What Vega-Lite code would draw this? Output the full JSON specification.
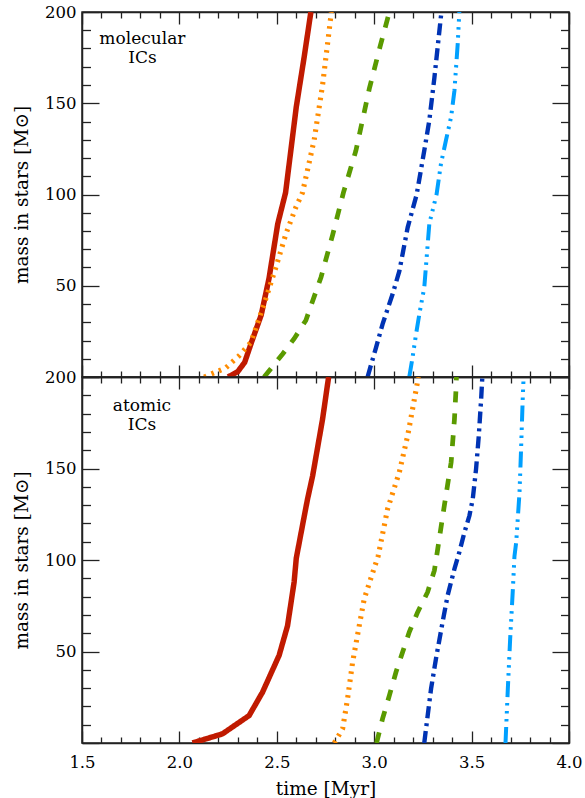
{
  "$schema": "https://vega.github.io/schema/vega-lite/v6.json",
  "background": "white",
  "padding": {"left": 11, "top": 3, "right": 14, "bottom": 0},
  "spacing": 0,
  "bounds": "flush",
  "config": {
    "view": {"stroke": "#222", "strokeWidth": 1.5},
    "font": "DejaVu Serif",
    "axis": {
      "domainColor": "#222", "domainWidth": 1.5, "tickColor": "#222", "tickWidth": 1.3,
      "grid": false, "labelFont": "DejaVu Serif", "labelFontSize": 16.5, "labelColor": "#000",
      "titleFont": "DejaVu Serif", "titleFontSize": 18.5, "titleFontWeight": "normal", "titleColor": "#000",
      "labelFlush": false, "labelOverlap": false, "minExtent": 0
    }
  },
  "datasets": {
    "curves": [
      {"p":"molecular","s":"s1","t":2.25,"m":0},{"p":"molecular","s":"s1","t":2.30,"m":3},{"p":"molecular","s":"s1","t":2.335,"m":8},{"p":"molecular","s":"s1","t":2.37,"m":19},{"p":"molecular","s":"s1","t":2.42,"m":34},{"p":"molecular","s":"s1","t":2.46,"m":54},{"p":"molecular","s":"s1","t":2.505,"m":84},{"p":"molecular","s":"s1","t":2.545,"m":101},{"p":"molecular","s":"s1","t":2.60,"m":148},{"p":"molecular","s":"s1","t":2.64,"m":175},{"p":"molecular","s":"s1","t":2.675,"m":200},
      {"p":"molecular","s":"s2","t":2.127,"m":0},{"p":"molecular","s":"s2","t":2.238,"m":5},{"p":"molecular","s":"s2","t":2.307,"m":11.7},{"p":"molecular","s":"s2","t":2.367,"m":19},{"p":"molecular","s":"s2","t":2.435,"m":40},{"p":"molecular","s":"s2","t":2.495,"m":60},{"p":"molecular","s":"s2","t":2.547,"m":78.5},{"p":"molecular","s":"s2","t":2.598,"m":93},{"p":"molecular","s":"s2","t":2.632,"m":101},{"p":"molecular","s":"s2","t":2.692,"m":130},{"p":"molecular","s":"s2","t":2.735,"m":160},{"p":"molecular","s":"s2","t":2.769,"m":190},{"p":"molecular","s":"s2","t":2.78,"m":200},
      {"p":"molecular","s":"s3","t":2.435,"m":0},{"p":"molecular","s":"s3","t":2.53,"m":12.6},{"p":"molecular","s":"s3","t":2.589,"m":21},{"p":"molecular","s":"s3","t":2.649,"m":31},{"p":"molecular","s":"s3","t":2.727,"m":54.7},{"p":"molecular","s":"s3","t":2.786,"m":77.6},{"p":"molecular","s":"s3","t":2.842,"m":101},{"p":"molecular","s":"s3","t":2.906,"m":124},{"p":"molecular","s":"s3","t":2.975,"m":158},{"p":"molecular","s":"s3","t":3.03,"m":181},{"p":"molecular","s":"s3","t":3.078,"m":200},
      {"p":"molecular","s":"s4","t":2.966,"m":0},{"p":"molecular","s":"s4","t":3.009,"m":16},{"p":"molecular","s":"s4","t":3.043,"m":29},{"p":"molecular","s":"s4","t":3.095,"m":45.6},{"p":"molecular","s":"s4","t":3.129,"m":58},{"p":"molecular","s":"s4","t":3.172,"m":82},{"p":"molecular","s":"s4","t":3.218,"m":100},{"p":"molecular","s":"s4","t":3.257,"m":124},{"p":"molecular","s":"s4","t":3.283,"m":140.6},{"p":"molecular","s":"s4","t":3.309,"m":164},{"p":"molecular","s":"s4","t":3.335,"m":190},{"p":"molecular","s":"s4","t":3.345,"m":200},
      {"p":"molecular","s":"s5","t":3.18,"m":0},{"p":"molecular","s":"s5","t":3.197,"m":10.8},{"p":"molecular","s":"s5","t":3.215,"m":23.6},{"p":"molecular","s":"s5","t":3.232,"m":34.6},{"p":"molecular","s":"s5","t":3.257,"m":49},{"p":"molecular","s":"s5","t":3.283,"m":84},{"p":"molecular","s":"s5","t":3.32,"m":100},{"p":"molecular","s":"s5","t":3.343,"m":117},{"p":"molecular","s":"s5","t":3.369,"m":130},{"p":"molecular","s":"s5","t":3.395,"m":142.6},{"p":"molecular","s":"s5","t":3.412,"m":157},{"p":"molecular","s":"s5","t":3.429,"m":183},{"p":"molecular","s":"s5","t":3.437,"m":200},
      {"p":"atomic","s":"s1","t":2.067,"m":0},{"p":"atomic","s":"s1","t":2.221,"m":5},{"p":"atomic","s":"s1","t":2.358,"m":15},{"p":"atomic","s":"s1","t":2.427,"m":27.8},{"p":"atomic","s":"s1","t":2.512,"m":47.9},{"p":"atomic","s":"s1","t":2.555,"m":64},{"p":"atomic","s":"s1","t":2.589,"m":88},{"p":"atomic","s":"s1","t":2.60,"m":101},{"p":"atomic","s":"s1","t":2.641,"m":124},{"p":"atomic","s":"s1","t":2.658,"m":133.4},{"p":"atomic","s":"s1","t":2.684,"m":146},{"p":"atomic","s":"s1","t":2.735,"m":177},{"p":"atomic","s":"s1","t":2.766,"m":200},
      {"p":"atomic","s":"s2","t":2.795,"m":0},{"p":"atomic","s":"s2","t":2.838,"m":7.8},{"p":"atomic","s":"s2","t":2.863,"m":24},{"p":"atomic","s":"s2","t":2.889,"m":44},{"p":"atomic","s":"s2","t":2.923,"m":64},{"p":"atomic","s":"s2","t":2.949,"m":78.8},{"p":"atomic","s":"s2","t":2.992,"m":93},{"p":"atomic","s":"s2","t":3.02,"m":102},{"p":"atomic","s":"s2","t":3.069,"m":128},{"p":"atomic","s":"s2","t":3.129,"m":148},{"p":"atomic","s":"s2","t":3.172,"m":168},{"p":"atomic","s":"s2","t":3.197,"m":182.5},{"p":"atomic","s":"s2","t":3.227,"m":200},
      {"p":"atomic","s":"s3","t":3.012,"m":0},{"p":"atomic","s":"s3","t":3.043,"m":13.3},{"p":"atomic","s":"s3","t":3.078,"m":26},{"p":"atomic","s":"s3","t":3.112,"m":38.8},{"p":"atomic","s":"s3","t":3.146,"m":49.7},{"p":"atomic","s":"s3","t":3.18,"m":60.6},{"p":"atomic","s":"s3","t":3.223,"m":71.5},{"p":"atomic","s":"s3","t":3.274,"m":82.4},{"p":"atomic","s":"s3","t":3.309,"m":94.3},{"p":"atomic","s":"s3","t":3.326,"m":106},{"p":"atomic","s":"s3","t":3.36,"m":129.7},{"p":"atomic","s":"s3","t":3.395,"m":153.4},{"p":"atomic","s":"s3","t":3.412,"m":177},{"p":"atomic","s":"s3","t":3.42,"m":193.4},{"p":"atomic","s":"s3","t":3.422,"m":200},
      {"p":"atomic","s":"s4","t":3.257,"m":0},{"p":"atomic","s":"s4","t":3.266,"m":7.8},{"p":"atomic","s":"s4","t":3.292,"m":29.7},{"p":"atomic","s":"s4","t":3.317,"m":46},{"p":"atomic","s":"s4","t":3.351,"m":66},{"p":"atomic","s":"s4","t":3.377,"m":80.6},{"p":"atomic","s":"s4","t":3.412,"m":95.2},{"p":"atomic","s":"s4","t":3.437,"m":104.3},{"p":"atomic","s":"s4","t":3.463,"m":115},{"p":"atomic","s":"s4","t":3.489,"m":124.3},{"p":"atomic","s":"s4","t":3.506,"m":133.4},{"p":"atomic","s":"s4","t":3.523,"m":149.8},{"p":"atomic","s":"s4","t":3.537,"m":168},{"p":"atomic","s":"s4","t":3.549,"m":188},{"p":"atomic","s":"s4","t":3.555,"m":200},
      {"p":"atomic","s":"s5","t":3.674,"m":0},{"p":"atomic","s":"s5","t":3.686,"m":29.7},{"p":"atomic","s":"s5","t":3.698,"m":57},{"p":"atomic","s":"s5","t":3.712,"m":84.3},{"p":"atomic","s":"s5","t":3.72,"m":102},{"p":"atomic","s":"s5","t":3.729,"m":109.7},{"p":"atomic","s":"s5","t":3.746,"m":137},{"p":"atomic","s":"s5","t":3.754,"m":160.7},{"p":"atomic","s":"s5","t":3.763,"m":189.8},{"p":"atomic","s":"s5","t":3.767,"m":200}
    ]
  },
  "vconcat": [
    {
      "width": 487, "height": 365,
      "resolve": {"axis": {"x": "independent", "y": "independent"}},
      "layer": [
        {
          "data": {"name": "curves"},
          "transform": [{"filter": "datum.p === 'molecular'"}],
          "mark": {"type": "line", "clip": true, "strokeCap": "butt"},
          "encoding": {
            "x": {"field": "t", "type": "quantitative", "scale": {"domain": [1.5, 4], "nice": false, "zero": false},
              "axis": {"orient": "bottom", "values": [1.5,2.0,2.5,3.0,3.5,4.0], "tickSize": -12, "labels": false, "title": null}},
            "y": {"field": "m", "type": "quantitative", "scale": {"domain": [0, 200], "nice": false},
              "axis": {"orient": "left", "values": [0,50,100,150,200], "tickSize": -17,
                "labelExpr": "datum.value > 0 ? format(datum.value, 'd') : ''",
                "labelPadding": 23, "title": "mass in stars [M⊙]", "titlePadding": 13}},
            "color": {"field": "s", "type": "nominal", "legend": null,
              "scale": {"domain": ["s1","s2","s3","s4","s5"], "range": ["#c01a00","#ff8c00","#5a9a00","#0033b4","#00a0ff"]}},
            "strokeDash": {"field": "s", "type": "nominal", "legend": null,
              "scale": {"domain": ["s1","s2","s3","s4","s5"], "range": [[1,0],[2.5,5.5],[11,11],[12,5,3,5],[16,5.5,2.5,5.5,2.5,5.5,2.5,6]]}},
            "strokeWidth": {"field": "s", "type": "nominal", "legend": null,
              "scale": {"domain": ["s1","s2","s3","s4","s5"], "range": [5.5,4,6,5,5]}}
          }
        },
        {
          "data": {"values": [{"label": "molecular\nICs"}]},
          "mark": {"type": "text", "font": "DejaVu Serif", "fontSize": 17, "lineBreak": "\n", "lineHeight": 18.5, "align": "center", "baseline": "middle", "color": "#000"},
          "encoding": {
            "text": {"field": "label"},
            "x": {"datum": 1.81, "type": "quantitative",
              "axis": {"orient": "top", "values": [1.5,2.0,2.5,3.0,3.5,4.0], "tickSize": -12, "labels": false, "title": null}},
            "y": {"datum": 185, "type": "quantitative",
              "axis": {"orient": "right", "values": [0,50,100,150,200], "tickSize": -17, "labels": false, "title": null}}
          }
        },
        {
          "data": {"values": [{"label": ""}]},
          "mark": {"type": "text"},
          "encoding": {
            "text": {"field": "label"},
            "x": {"datum": 2, "type": "quantitative",
              "axis": {"orient": "bottom", "values": [1.6,1.7,1.8,1.9,2.1,2.2,2.3,2.4,2.6,2.7,2.8,2.9,3.1,3.2,3.3,3.4,3.6,3.7,3.8,3.9], "tickSize": -6, "labels": false, "domain": false, "title": null}},
            "y": {"datum": 100, "type": "quantitative",
              "axis": {"orient": "left", "values": [10,20,30,40,60,70,80,90,110,120,130,140,160,170,180,190], "tickSize": -8.5, "labels": false, "domain": false, "title": null}}
          }
        },
        {
          "data": {"values": [{"label": ""}]},
          "mark": {"type": "text"},
          "encoding": {
            "text": {"field": "label"},
            "x": {"datum": 2, "type": "quantitative",
              "axis": {"orient": "top", "values": [1.6,1.7,1.8,1.9,2.1,2.2,2.3,2.4,2.6,2.7,2.8,2.9,3.1,3.2,3.3,3.4,3.6,3.7,3.8,3.9], "tickSize": -6, "labels": false, "domain": false, "title": null}},
            "y": {"datum": 100, "type": "quantitative",
              "axis": {"orient": "right", "values": [10,20,30,40,60,70,80,90,110,120,130,140,160,170,180,190], "tickSize": -8.5, "labels": false, "domain": false, "title": null}}
          }
        }
      ]
    },
    {
      "width": 487, "height": 366,
      "resolve": {"axis": {"x": "independent", "y": "independent"}},
      "layer": [
        {
          "data": {"name": "curves"},
          "transform": [{"filter": "datum.p === 'atomic'"}],
          "mark": {"type": "line", "clip": true, "strokeCap": "butt"},
          "encoding": {
            "x": {"field": "t", "type": "quantitative", "scale": {"domain": [1.5, 4], "nice": false, "zero": false},
              "axis": {"orient": "bottom", "values": [1.5,2.0,2.5,3.0,3.5,4.0], "tickSize": -12,
                "format": ".1f", "labelPadding": 23, "title": "time [Myr]", "titlePadding": 9}},
            "y": {"field": "m", "type": "quantitative", "scale": {"domain": [0, 200], "nice": false},
              "axis": {"orient": "left", "values": [0,50,100,150,200], "tickSize": -17,
                "labelExpr": "datum.value > 0 ? format(datum.value, 'd') : ''",
                "labelPadding": 23, "title": "mass in stars [M⊙]", "titlePadding": 13}},
            "color": {"field": "s", "type": "nominal", "legend": null,
              "scale": {"domain": ["s1","s2","s3","s4","s5"], "range": ["#c01a00","#ff8c00","#5a9a00","#0033b4","#00a0ff"]}},
            "strokeDash": {"field": "s", "type": "nominal", "legend": null,
              "scale": {"domain": ["s1","s2","s3","s4","s5"], "range": [[1,0],[2.5,5.5],[11,11],[12,5,3,5],[16,5.5,2.5,5.5,2.5,5.5,2.5,6]]}},
            "strokeWidth": {"field": "s", "type": "nominal", "legend": null,
              "scale": {"domain": ["s1","s2","s3","s4","s5"], "range": [5.5,4,6,5,5]}}
          }
        },
        {
          "data": {"values": [{"label": "atomic\nICs"}]},
          "mark": {"type": "text", "font": "DejaVu Serif", "fontSize": 17, "lineBreak": "\n", "lineHeight": 18.5, "align": "center", "baseline": "middle", "color": "#000"},
          "encoding": {
            "text": {"field": "label"},
            "x": {"datum": 1.808, "type": "quantitative",
              "axis": {"orient": "top", "values": [1.5,2.0,2.5,3.0,3.5,4.0], "tickSize": -12, "labels": false, "title": null}},
            "y": {"datum": 184, "type": "quantitative",
              "axis": {"orient": "right", "values": [0,50,100,150,200], "tickSize": -17, "labels": false, "title": null}}
          }
        },
        {
          "data": {"values": [{"label": ""}]},
          "mark": {"type": "text"},
          "encoding": {
            "text": {"field": "label"},
            "x": {"datum": 2, "type": "quantitative",
              "axis": {"orient": "bottom", "values": [1.6,1.7,1.8,1.9,2.1,2.2,2.3,2.4,2.6,2.7,2.8,2.9,3.1,3.2,3.3,3.4,3.6,3.7,3.8,3.9], "tickSize": -6, "labels": false, "domain": false, "title": null}},
            "y": {"datum": 100, "type": "quantitative",
              "axis": {"orient": "left", "values": [10,20,30,40,60,70,80,90,110,120,130,140,160,170,180,190], "tickSize": -8.5, "labels": false, "domain": false, "title": null}}
          }
        },
        {
          "data": {"values": [{"label": ""}]},
          "mark": {"type": "text"},
          "encoding": {
            "text": {"field": "label"},
            "x": {"datum": 2, "type": "quantitative",
              "axis": {"orient": "top", "values": [1.6,1.7,1.8,1.9,2.1,2.2,2.3,2.4,2.6,2.7,2.8,2.9,3.1,3.2,3.3,3.4,3.6,3.7,3.8,3.9], "tickSize": -6, "labels": false, "domain": false, "title": null}},
            "y": {"datum": 100, "type": "quantitative",
              "axis": {"orient": "right", "values": [10,20,30,40,60,70,80,90,110,120,130,140,160,170,180,190], "tickSize": -8.5, "labels": false, "domain": false, "title": null}}
          }
        }
      ]
    }
  ]
}
